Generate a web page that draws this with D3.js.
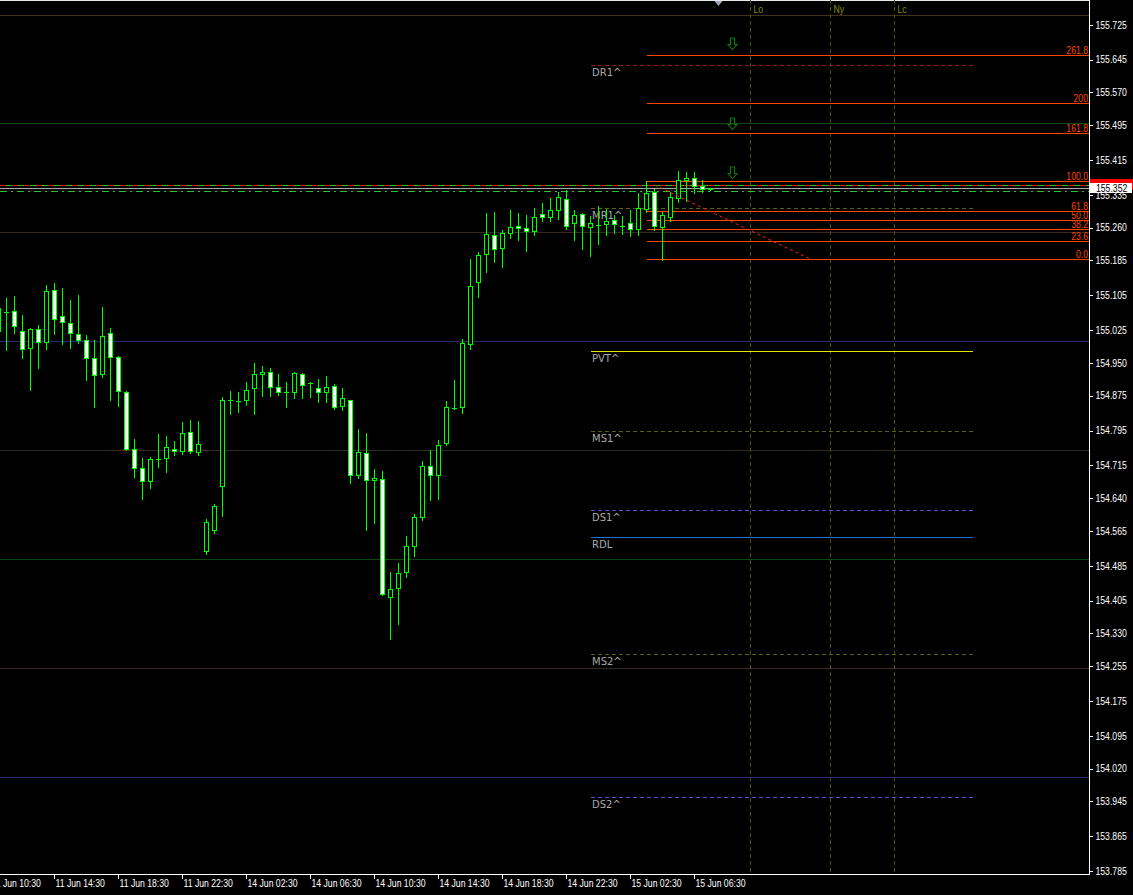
<!DOCTYPE html>
<html><head><meta charset="utf-8">
<script src="https://cdn.jsdelivr.net/npm/d3@7"></script>
<style>
html,body{margin:0;padding:0;background:#000;overflow:hidden}
svg{display:block}
.ax text{font-family:'Liberation Sans',Arial,sans-serif;font-size:10px;fill:#fff}
.nar{font-family:'Liberation Sans',Arial,sans-serif;font-size:10px}
.piv{font-family:'DejaVu Sans',sans-serif;font-size:10px;fill:#a8a8a8}
</style></head><body>
<svg id="c" width="1133" height="895"></svg>
<script>
// ---------------- data ----------------
const priceTicks = ['155.725','155.645','155.570','155.495','155.415','155.335','155.260','155.185','155.105','155.025','154.950','154.875','154.795','154.715','154.640','154.565','154.485','154.405','154.330','154.255','154.175','154.095','154.020','153.945','153.865','153.785'];
const timeLabels = ['11 Jun 10:30','11 Jun 14:30','11 Jun 18:30','11 Jun 22:30','14 Jun 02:30','14 Jun 06:30','14 Jun 10:30','14 Jun 14:30','14 Jun 18:30','14 Jun 22:30','15 Jun 02:30','15 Jun 06:30'];
const timeTickIdx = [-2,6,14,22,30,38,46,54,62,70,78,86];
const firstCandleIdx = -1;   // M30 bars, index 0 = 11 Jun 11:30
const opens  = [155.024,155.069,155.071,155.025,154.985,155.028,155.000,155.118,155.058,155.042,155.017,155.003,154.962,154.926,155.019,154.964,154.884,154.755,154.710,154.680,154.730,154.733,154.755,154.749,154.792,154.746,154.519,154.568,154.668,154.866,154.864,154.866,154.893,154.925,154.931,154.895,154.884,154.884,154.925,154.904,154.893,154.884,154.898,154.852,154.866,154.694,154.744,154.682,154.684,154.414,154.435,154.471,154.531,154.597,154.714,154.694,154.767,154.847,154.849,154.994,155.136,155.200,155.244,155.214,155.248,155.264,155.260,155.253,155.292,155.285,155.302,155.328,155.271,155.292,155.262,155.268,155.269,155.278,155.264,155.271,155.257,155.303,155.342,155.263,155.286,155.330,155.370,155.374,155.357,155.349];
const highs  = [155.089,155.099,155.105,155.061,155.031,155.038,155.130,155.134,155.123,155.095,155.107,155.015,155.004,155.079,155.031,154.966,154.887,154.777,154.733,154.736,154.788,154.784,154.772,154.816,154.820,154.818,154.593,154.628,154.872,154.886,154.884,154.907,154.950,154.944,154.939,154.926,154.907,154.930,154.927,154.907,154.914,154.921,154.902,154.894,154.867,154.800,154.791,154.708,154.703,154.472,154.493,154.554,154.605,154.726,154.752,154.775,154.864,154.911,155.006,155.189,155.205,155.295,155.297,155.256,155.302,155.295,155.290,155.306,155.317,155.329,155.343,155.348,155.301,155.294,155.287,155.310,155.303,155.290,155.287,155.301,155.340,155.367,155.349,155.298,155.342,155.391,155.388,155.388,155.370,155.353];
const lows   = [155.015,154.981,155.020,154.963,154.888,154.940,154.983,155.017,154.995,154.986,154.997,154.913,154.851,154.920,154.867,154.853,154.752,154.690,154.639,154.665,154.713,154.702,154.741,154.743,154.745,154.741,154.514,154.562,154.601,154.833,154.839,154.855,154.833,154.876,154.876,154.878,154.851,154.871,154.871,154.874,154.862,154.862,154.846,154.844,154.677,154.688,154.569,154.585,154.420,154.319,154.353,154.461,154.509,154.590,154.638,154.640,154.762,154.846,154.837,154.984,155.103,155.160,155.183,155.172,155.237,155.234,155.208,155.244,155.276,155.276,155.280,155.257,155.234,155.213,155.197,155.224,155.244,155.248,155.246,155.241,155.244,155.298,155.256,155.188,155.276,155.321,155.323,155.341,155.342,155.348];
const closes = [155.077,155.068,155.035,154.982,155.028,154.998,155.115,155.051,155.044,155.019,155.003,154.962,154.923,155.014,154.964,154.886,154.755,154.710,154.680,154.730,154.731,154.758,154.749,154.790,154.749,154.765,154.586,154.623,154.866,154.866,154.863,154.888,154.925,154.931,154.895,154.884,154.885,154.927,154.900,154.904,154.884,154.895,154.849,154.870,154.694,154.746,154.682,154.687,154.421,154.432,154.469,154.531,154.597,154.714,154.694,154.762,154.849,154.848,154.996,155.127,155.198,155.246,155.212,155.248,155.262,155.260,155.253,155.285,155.285,155.301,155.331,155.264,155.290,155.264,155.273,155.268,155.276,155.269,155.264,155.257,155.306,155.340,155.266,155.290,155.331,155.370,155.374,155.356,155.349,155.352];

const roundLevels = [155.747,155.50,155.25,155.00,154.75,154.50,154.25,154.00];
const roundLevelColors = ['#3d301c','#0c480c','#332a20','#2a2a62','#332a20','#0c480c','#332a20','#2a2a62'];

const pivotNames  = ['DR1^','MR1^','PVT^','MS1^','DS1^','RDL','MS2^','DS2^'];
const pivotValues = [155.633,155.306,154.978,154.795,154.612,154.552,154.282,153.956];
const pivotColors = ['#8e1c1c','#5e5e12','#e6e600','#5e5e12','#5a50c0','#1e72d2','#5e5e12','#5a50c0'];
const pivotDashed = [true,true,false,true,true,false,true,true];
const pivotFromIdx = 73, pivotToIdx = 120.8;

const fibLevels = [0,23.6,38.2,50,61.8,100,161.8,200,261.8];
const fibLabels = ['0.0','23.6','38.2','50.0','61.8','100.0','161.8','200','261.8'];
const fibLow = 155.188, fibHigh = 155.367, fibFromIdx = 80;

const sessionNames = ['Lo','Ny','Lc'];
const sessionIdx = [93,103,111];

const arrowPrices = [155.670,155.487,155.376];
const arrowIdx = 90.8;

const trendIdx = [81,100.5];
const trendPrices = [155.359,155.189];

const bidPrice = 155.352, askPrice = 155.358, greenLevel = 155.345;

// ---------------- drawing ----------------
const W = 1133, H = 895, plotR = 1089, plotB = 874;
const GREEN = '#00ff00', FIB = '#ff4500';
const NARROW = 0.865;
function narrow(sel){
  sel.each(function(){
    const w = this.getComputedTextLength();
    this.setAttribute('textLength',(w*NARROW).toFixed(2));
    this.setAttribute('lengthAdjust','spacingAndGlyphs');
  });
}
const svg = d3.select('#c');
svg.append('rect').attr('width',W).attr('height',H).attr('fill','#000');

const x = d3.scaleLinear().domain([-0.8125,135.3125]).range([0,plotR]);
const y = d3.scaleLinear().domain([153.785,155.725]).range([871.7,25.3]);
const ry = v => Math.round(y(v));
const cyl = v => Math.floor(y(v)) + 0.5;

svg.append('clipPath').attr('id','pc').append('rect').attr('x',0).attr('y',0).attr('width',plotR).attr('height',plotB);
const plot = svg.append('g').attr('shape-rendering','crispEdges').attr('clip-path','url(#pc)');

// top frame line
plot.append('line').attr('x1',0).attr('x2',plotR).attr('y1',0.5).attr('y2',0.5).attr('stroke','#e8e8e8');

// round levels
plot.selectAll('.rl').data(roundLevels).join('line').attr('class','rl')
  .attr('x1',0).attr('x2',plotR).attr('y1',d=>cyl(d)).attr('y2',d=>cyl(d))
  .attr('stroke',(d,i)=>roundLevelColors[i]);

// session vertical lines
plot.selectAll('.ses').data(sessionIdx).join('line').attr('class','ses')
  .attr('x1',d=>x(d)).attr('x2',d=>x(d)).attr('y1',0).attr('y2',plotB)
  .attr('stroke','#4e4e10').attr('stroke-dasharray','4,3');
plot.selectAll('.sest').data(sessionIdx).join('text').attr('class','sest nar')
  .attr('x',d=>x(d)+3).attr('y',13).attr('fill','#8a8a00').text((d,i)=>sessionNames[i])
  .call(narrow);

// pivot lines
plot.selectAll('.pv').data(pivotValues).join('line').attr('class','pv')
  .attr('x1',x(pivotFromIdx)).attr('x2',x(pivotToIdx)).attr('y1',d=>cyl(d)).attr('y2',d=>cyl(d))
  .attr('stroke',(d,i)=>pivotColors[i]).attr('stroke-dasharray',(d,i)=>pivotDashed[i]?'4,3':null);
plot.selectAll('.pvt').data(pivotValues).join('text').attr('class','pvt piv')
  .attr('x',x(pivotFromIdx)+1.5).attr('y',d=>cyl(d)+10).text((d,i)=>pivotNames[i]);

// fibonacci
const fibPrice = l => fibLow + (fibHigh-fibLow)*l/100;
plot.selectAll('.fb').data(fibLevels).join('line').attr('class','fb')
  .attr('x1',x(fibFromIdx)).attr('x2',plotR).attr('y1',d=>cyl(fibPrice(d))).attr('y2',d=>cyl(fibPrice(d)))
  .attr('stroke',FIB);
plot.selectAll('.fbt').data(fibLevels).join('text').attr('class','fbt nar')
  .attr('x',plotR-1).attr('y',d=>cyl(fibPrice(d))-2).attr('text-anchor','end').attr('fill',FIB)
  .text((d,i)=>fibLabels[i]).call(narrow);

// price lines near current price
plot.append('line').attr('x1',0).attr('x2',plotR).attr('y1',cyl(askPrice)).attr('y2',cyl(askPrice))
  .attr('stroke','#20c020').attr('stroke-dasharray','6,6').attr('stroke-dashoffset',6);
plot.append('line').attr('x1',0).attr('x2',plotR).attr('y1',cyl(askPrice)).attr('y2',cyl(askPrice))
  .attr('stroke','#e01818').attr('stroke-dasharray','6,6');
plot.append('line').attr('x1',0).attr('x2',plotR).attr('y1',cyl(bidPrice)).attr('y2',cyl(bidPrice))
  .attr('stroke','#a8a8a8');
plot.append('line').attr('x1',0).attr('x2',plotR).attr('y1',cyl(greenLevel)).attr('y2',cyl(greenLevel))
  .attr('stroke','#30c030').attr('stroke-dasharray','7,4,2,4');

// candles
const candles = opens.map((o,i)=>({i:firstCandleIdx+i,o,h:highs[i],l:lows[i],c:closes[i]}));
const cg = plot.selectAll('.cd').data(candles).join('g').attr('class','cd');
cg.append('rect').attr('x',d=>Math.floor(x(d.i))).attr('y',d=>ry(d.h)).attr('width',1)
  .attr('height',d=>Math.max(1,ry(d.l)-ry(d.h)+1)).attr('fill',GREEN);
cg.append('rect').attr('x',d=>Math.floor(x(d.i))-2).attr('y',d=>Math.min(ry(d.o),ry(d.c))).attr('width',5)
  .attr('height',d=>Math.abs(ry(d.o)-ry(d.c))+1).attr('fill',GREEN);
cg.filter(d=>Math.abs(ry(d.o)-ry(d.c))>=2).append('rect')
  .attr('x',d=>Math.floor(x(d.i))-1).attr('y',d=>Math.min(ry(d.o),ry(d.c))+1).attr('width',3)
  .attr('height',d=>Math.abs(ry(d.o)-ry(d.c))-1).attr('fill',d=>d.c<d.o?'#ffffff':'#000000');

// trend line (drawn over candles)
plot.append('line').attr('x1',x(trendIdx[0])).attr('x2',x(trendIdx[1]))
  .attr('y1',y(trendPrices[0])).attr('y2',y(trendPrices[1]))
  .attr('stroke','#ff2020').attr('stroke-dasharray','3,3').attr('shape-rendering','auto');

// arrows (hollow down arrows)
const arrowPath = 'M-2,-11.5H2V-5H4.5L0,0L-4.5,-5H-2Z';
plot.selectAll('.ar').data(arrowPrices).join('path').attr('class','ar')
  .attr('d',arrowPath).attr('transform',d=>`translate(${Math.floor(x(arrowIdx))+0.5},${Math.round(y(d))+0.5})`)
  .attr('fill','none').attr('stroke','#0c7a0c').attr('stroke-width',1.1).attr('shape-rendering','auto');

// chart shift marker
plot.append('path').attr('d',`M${x(88.5)},1L${x(89.5)},1L${x(89)},6Z`).attr('fill','#9aa4b6').attr('shape-rendering','auto');

// ---------------- axes ----------------
const yAxis = d3.axisRight(y).tickValues(priceTicks.map(Number)).tickFormat(d3.format('.3f'))
  .tickSize(3).tickSizeOuter(0).offset(0);
const ya = svg.append('g').attr('class','ax').attr('transform',`translate(${plotR+0.5},0)`).call(yAxis);
ya.select('.domain').remove();
ya.selectAll('.tick line').attr('stroke','#fff').attr('shape-rendering','crispEdges');
ya.selectAll('.tick text').attr('x',6).call(narrow);

const xAxis = d3.axisBottom(x).tickValues(timeTickIdx).tickFormat((d,i)=>timeLabels[i])
  .tickSize(4).tickSizeOuter(0).offset(0);
const xa = svg.append('g').attr('class','ax').attr('transform',`translate(0,${plotB+0.5})`).call(xAxis);
xa.select('.domain').attr('stroke','#fff').attr('shape-rendering','crispEdges');
xa.selectAll('.tick line').attr('stroke','#fff').attr('shape-rendering','crispEdges');
xa.selectAll('.tick text').attr('text-anchor','start').attr('x',1).attr('y',5).call(narrow);

svg.append('line').attr('x1',plotR+0.5).attr('x2',plotR+0.5).attr('y1',0).attr('y2',plotB+1)
  .attr('stroke','#fff').attr('shape-rendering','crispEdges');

// current price labels
const pl = svg.append('g').attr('shape-rendering','crispEdges');
pl.append('rect').attr('x',plotR+1).attr('y',ry(askPrice)-6).attr('width',W-plotR-1).attr('height',11).attr('fill','#ff0000');
pl.append('rect').attr('x',plotR+1).attr('y',ry(bidPrice)-5).attr('width',42).attr('height',10).attr('fill','#ffffff');
pl.append('text').attr('class','nar').attr('x',plotR+7).attr('y',ry(bidPrice)+4).attr('fill','#000')
  .text(bidPrice.toFixed(3)).call(narrow);
</script>
</body></html>
